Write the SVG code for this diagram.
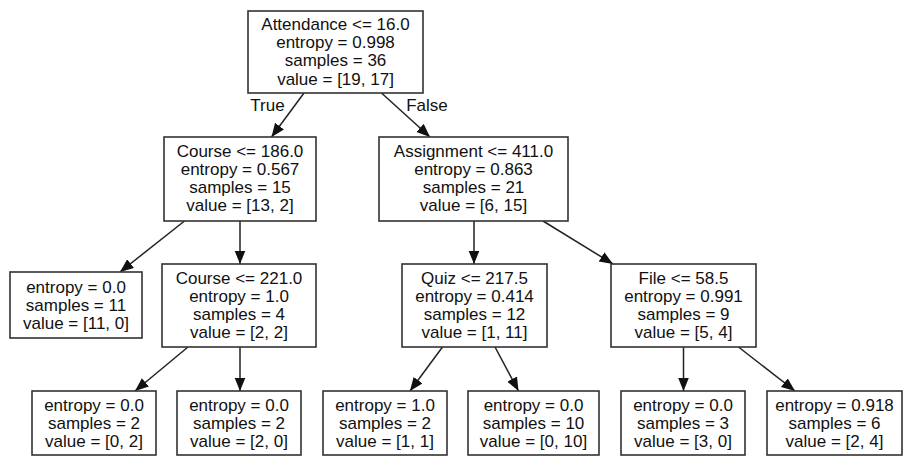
<svg xmlns="http://www.w3.org/2000/svg" width="905" height="457" viewBox="0 0 905 457">
<defs>
<marker id="ah" markerUnits="userSpaceOnUse" markerWidth="14" markerHeight="12" refX="13.5" refY="5.5" orient="auto">
<path d="M0,0 L13.5,5.5 L0,11 z" fill="#111"/>
</marker>
<style>
.box{fill:#fff;stroke:#333;stroke-width:1.6}
.t{font-family:"Liberation Sans",Arial,sans-serif;font-size:17px;fill:#111;text-anchor:middle}
.e{stroke:#222;stroke-width:1.5;fill:none;marker-end:url(#ah)}
</style>
</defs>
<rect width="905" height="457" fill="#fff"/>
<g id="connectors">
<line class="e" x1="304" y1="93" x2="271.5" y2="137"/>
<line class="e" x1="381.5" y1="93" x2="430" y2="137"/>
<line class="e" x1="184.5" y1="221" x2="120" y2="272"/>
<line class="e" x1="240" y1="221" x2="240" y2="264"/>
<line class="e" x1="188" y1="347" x2="135" y2="391"/>
<line class="e" x1="240" y1="347" x2="240" y2="391"/>
<line class="e" x1="474" y1="221" x2="474" y2="264"/>
<line class="e" x1="543" y1="221" x2="613" y2="264"/>
<line class="e" x1="442.5" y1="347" x2="410" y2="391"/>
<line class="e" x1="495" y1="347" x2="518.5" y2="391"/>
<line class="e" x1="683.5" y1="347" x2="683.5" y2="391"/>
<line class="e" x1="738.5" y1="347" x2="795" y2="391"/>
<text class="t" x="267.5" y="111">True</text>
<text class="t" x="427" y="110.5">False</text>
</g>
<g id="n0">
<rect class="box" x="248" y="11" width="175" height="82"/>
<text class="t" x="335.5" y="30">Attendance &lt;= 16.0</text>
<text class="t" x="335.5" y="48.2">entropy = 0.998</text>
<text class="t" x="335.5" y="66.4">samples = 36</text>
<text class="t" x="335.5" y="84.6">value = [19, 17]</text>
</g>
<g id="n1">
<rect class="box" x="164" y="137" width="152" height="84"/>
<text class="t" x="240" y="156.5">Course &lt;= 186.0</text>
<text class="t" x="240" y="174.7">entropy = 0.567</text>
<text class="t" x="240" y="192.9">samples = 15</text>
<text class="t" x="240" y="211.1">value = [13, 2]</text>
</g>
<g id="n2">
<rect class="box" x="379" y="137" width="189" height="84"/>
<text class="t" x="473.5" y="156.5">Assignment &lt;= 411.0</text>
<text class="t" x="473.5" y="174.7">entropy = 0.863</text>
<text class="t" x="473.5" y="192.9">samples = 21</text>
<text class="t" x="473.5" y="211.1">value = [6, 15]</text>
</g>
<g id="n3">
<rect class="box" x="10" y="272" width="132" height="66"/>
<text class="t" x="76" y="292.5">entropy = 0.0</text>
<text class="t" x="76" y="310.7">samples = 11</text>
<text class="t" x="76" y="328.9">value = [11, 0]</text>
</g>
<g id="n4">
<rect class="box" x="162" y="264" width="154" height="83"/>
<text class="t" x="239" y="283.5">Course &lt;= 221.0</text>
<text class="t" x="239" y="301.7">entropy = 1.0</text>
<text class="t" x="239" y="319.9">samples = 4</text>
<text class="t" x="239" y="338.1">value = [2, 2]</text>
</g>
<g id="n5">
<rect class="box" x="402" y="264" width="145" height="83"/>
<text class="t" x="474.5" y="283.5">Quiz &lt;= 217.5</text>
<text class="t" x="474.5" y="301.7">entropy = 0.414</text>
<text class="t" x="474.5" y="319.9">samples = 12</text>
<text class="t" x="474.5" y="338.1">value = [1, 11]</text>
</g>
<g id="n6">
<rect class="box" x="611" y="264" width="145" height="83"/>
<text class="t" x="683.5" y="283.5">File &lt;= 58.5</text>
<text class="t" x="683.5" y="301.7">entropy = 0.991</text>
<text class="t" x="683.5" y="319.9">samples = 9</text>
<text class="t" x="683.5" y="338.1">value = [5, 4]</text>
</g>
<g id="n7">
<rect class="box" x="32" y="391" width="124" height="64"/>
<text class="t" x="94" y="410.5">entropy = 0.0</text>
<text class="t" x="94" y="428.7">samples = 2</text>
<text class="t" x="94" y="446.9">value = [0, 2]</text>
</g>
<g id="n8">
<rect class="box" x="177" y="391" width="124" height="64"/>
<text class="t" x="239" y="410.5">entropy = 0.0</text>
<text class="t" x="239" y="428.7">samples = 2</text>
<text class="t" x="239" y="446.9">value = [2, 0]</text>
</g>
<g id="n9">
<rect class="box" x="323" y="391" width="124" height="64"/>
<text class="t" x="385" y="410.5">entropy = 1.0</text>
<text class="t" x="385" y="428.7">samples = 2</text>
<text class="t" x="385" y="446.9">value = [1, 1]</text>
</g>
<g id="n10">
<rect class="box" x="468" y="391" width="131" height="64"/>
<text class="t" x="533.5" y="410.5">entropy = 0.0</text>
<text class="t" x="533.5" y="428.7">samples = 10</text>
<text class="t" x="533.5" y="446.9">value = [0, 10]</text>
</g>
<g id="n11">
<rect class="box" x="621" y="391" width="124" height="64"/>
<text class="t" x="683" y="410.5">entropy = 0.0</text>
<text class="t" x="683" y="428.7">samples = 3</text>
<text class="t" x="683" y="446.9">value = [3, 0]</text>
</g>
<g id="n12">
<rect class="box" x="767" y="391" width="135" height="64"/>
<text class="t" x="834.5" y="410.5">entropy = 0.918</text>
<text class="t" x="834.5" y="428.7">samples = 6</text>
<text class="t" x="834.5" y="446.9">value = [2, 4]</text>
</g>
</svg>
